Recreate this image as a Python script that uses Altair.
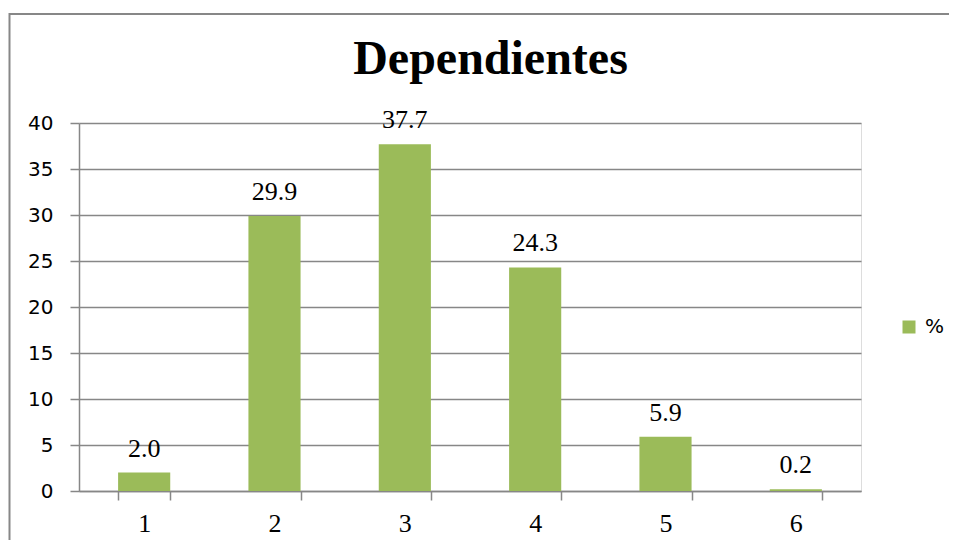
import altair as alt
import pandas as pd

# ---- data ----
categories = ["1", "2", "3", "4", "5", "6"]
values = [2.0, 29.9, 37.7, 24.3, 5.9, 0.2]
value_labels = ["2.0", "29.9", "37.7", "24.3", "5.9", "0.2"]
series_name = "%"
y_ticks = [0, 5, 10, 15, 20, 25, 30, 35, 40]
chart_title = "Dependientes"

df = pd.DataFrame({
    "cat": categories,
    "val": values,
    "label": value_labels,
    "series": [series_name] * len(categories),
})

GREEN = "#9BBB59"
GRAY = "#878787"
SERIF = "Liberation Serif"
SANS = "DejaVu Sans"

x_enc = alt.X(
    "cat:N", sort=categories, title=None,
    scale=alt.Scale(paddingInner=0.6, paddingOuter=0.3),
    axis=alt.Axis(labelAngle=0, labelFont=SERIF, labelFontSize=26, labelColor="black",
                  tickBand="extent", tickSize=9, tickColor=GRAY, tickWidth=1.5,
                  domainColor=GRAY, domainWidth=1.5, labelPadding=10, grid=False),
)
y_enc = alt.Y(
    "val:Q", title=None,
    scale=alt.Scale(domain=[0, 40], nice=False, zero=True),
    axis=alt.Axis(values=y_ticks, labelFont=SANS, labelFontSize=20, labelColor="black",
                  tickSize=9, tickColor=GRAY, tickWidth=1.5,
                  domainColor=GRAY, domainWidth=1.5,
                  grid=True, gridColor=GRAY, gridWidth=1.5, labelPadding=17),
)

frame = alt.Chart(pd.DataFrame({"k": [0]})).mark_rect(
    fill="transparent", stroke=GRAY, strokeWidth=2
).encode(
    x=alt.value(-69.5), x2=alt.value(1200), y=alt.value(-109), y2=alt.value(1200)
)

bars = alt.Chart(df).mark_bar().encode(
    x=x_enc,
    y=y_enc,
    color=alt.Color(
        "series:N",
        scale=alt.Scale(range=[GREEN]),
        legend=alt.Legend(orient="none", legendX=820, legendY=194, title=None,
                          symbolType="square", symbolSize=169, symbolStrokeWidth=0,
                          labelFont=SANS, labelFontSize=20, labelColor="black",
                          labelOffset=6),
    ),
)

labels = alt.Chart(df).mark_text(
    font=SERIF, fontSize=26, baseline="alphabetic", dy=-16, color="black"
).encode(
    x=alt.X("cat:N", sort=categories),
    y=alt.Y("val:Q"),
    text="label:N",
)

chart = alt.layer(frame, bars, labels).properties(
    width=782,
    height=368,
    title=alt.TitleParams(chart_title, font=SERIF, fontSize=48, fontWeight="bold",
                          color="black", anchor="middle", baseline="alphabetic",
                          dx=20.5, offset=0, dy=109),
    autosize=alt.AutoSizeParams(type="none"),
    padding={"left": 71, "top": 115, "right": 88, "bottom": 49},
).configure_view(stroke=None).configure(background="white").configure_text(font=SERIF)

chart.save("out.html", embed_options={"renderer": "svg", "actions": False})
